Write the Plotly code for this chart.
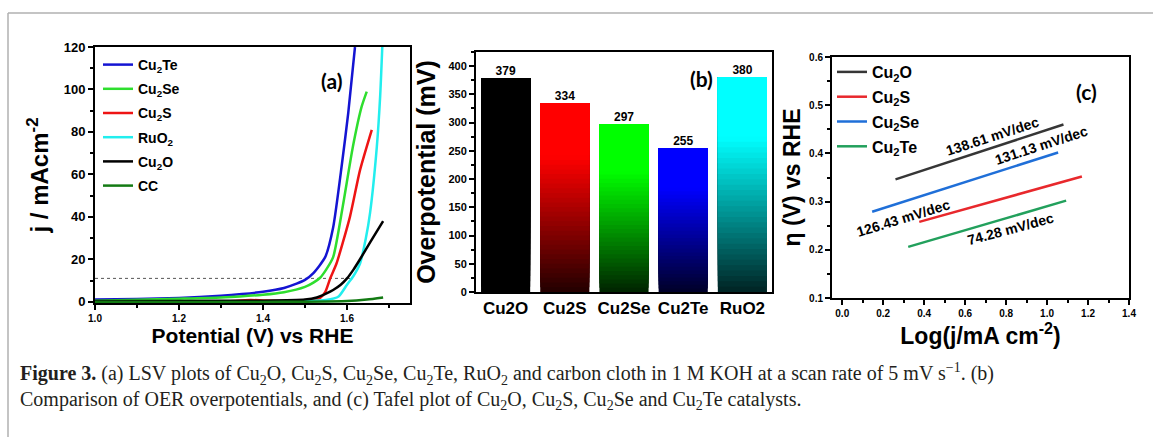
import plotly.graph_objects as go

W, H = 1153, 437

# ---------------- Panel (a) LSV data ----------------
lsv_cu2te_x = [1.0, 1.1, 1.2, 1.3, 1.35, 1.4, 1.45, 1.48, 1.5, 1.52, 1.548, 1.567, 1.588, 1.603, 1.619]
lsv_cu2te_j = [1.0, 1.3, 1.8, 2.8, 3.6, 4.7, 6.5, 8.5, 10.3, 13.5, 21, 35, 65, 89, 120]
lsv_cu2se_x = [1.0, 1.1, 1.2, 1.3, 1.4, 1.45, 1.5, 1.52, 1.536, 1.55, 1.567, 1.59, 1.614, 1.635, 1.647]
lsv_cu2se_j = [0.5, 0.9, 1.4, 2.0, 3.3, 4.5, 7.0, 9.0, 11.3, 15, 21, 45, 73, 92, 99]
lsv_cu2s_x = [1.0, 1.1, 1.2, 1.3, 1.37, 1.4, 1.45, 1.5, 1.52, 1.536, 1.548, 1.56, 1.575, 1.607, 1.631, 1.659]
lsv_cu2s_j = [-0.5, -0.5, -0.3, 0.0, 0.8, 0.6, 0.3, 0.3, 0.8, 1.8, 4.5, 11, 18, 40, 62, 81]
lsv_ruo2_x = [1.0, 1.2, 1.4, 1.5, 1.55, 1.58, 1.6, 1.615, 1.631, 1.645, 1.655, 1.671, 1.679, 1.684]
lsv_ruo2_j = [0.0, 0.0, 0.1, 0.3, 0.8, 2.5, 8, 12, 18, 30, 42, 73, 97, 120]
lsv_cu2o_x = [1.0, 1.2, 1.4, 1.5, 1.528, 1.55, 1.567, 1.585, 1.6, 1.615, 1.631, 1.655, 1.686]
lsv_cu2o_j = [0.3, 0.4, 0.5, 1.0, 2.0, 3.8, 5.5, 8, 11, 15, 20, 28, 38]
lsv_cc_x = [1.0, 1.2, 1.4, 1.5, 1.6, 1.647, 1.686]
lsv_cc_j = [0.0, -0.1, -0.1, 0.0, 0.3, 1.0, 2.0]
ref_line_x = [1.0, 1.61]
ref_line_j = [11, 11]

# ---------------- Panel (b) overpotential data ----------------
bar_categories = ["Cu2O", "Cu2S", "Cu2Se", "Cu2Te", "RuO2"]
bar_values = [379, 334, 297, 255, 380]
bar_top_colors = [(0, 0, 0), (255, 0, 0), (0, 255, 0), (0, 0, 255), (0, 255, 255)]
bar_bottom_colors = [(0, 0, 0), (35, 0, 0), (0, 35, 0), (0, 0, 40), (0, 35, 35)]

# ---------------- Panel (c) Tafel data ----------------
tafel_cu2o_x = [0.26, 1.08]
tafel_cu2o_y = [0.346, 0.460]
tafel_cu2s_x = [0.376, 1.17]
tafel_cu2s_y = [0.258, 0.352]
tafel_cu2se_x = [0.146, 1.054]
tafel_cu2se_y = [0.279, 0.402]
tafel_cu2te_x = [0.322, 1.093]
tafel_cu2te_y = [0.206, 0.302]
tafel_slopes = ["138.61 mV/dec", "131.13 mV/dec", "126.43 mV/dec", "74.28 mV/dec"]


def px(x):
    return x / W


def py(y):
    return 1 - y / H


fig = go.Figure()

# ---- panel (a) traces ----
lsv_series = [
    ("Cu<sub>2</sub>Te", lsv_cu2te_x, lsv_cu2te_j, "#1414d2"),
    ("Cu<sub>2</sub>Se", lsv_cu2se_x, lsv_cu2se_j, "#2ede2e"),
    ("Cu<sub>2</sub>S", lsv_cu2s_x, lsv_cu2s_j, "#ee1414"),
    ("RuO<sub>2</sub>", lsv_ruo2_x, lsv_ruo2_j, "#22eeee"),
    ("Cu<sub>2</sub>O", lsv_cu2o_x, lsv_cu2o_j, "#000000"),
    ("CC", lsv_cc_x, lsv_cc_j, "#137a13"),
]
fig.add_trace(go.Scatter(x=ref_line_x, y=ref_line_j, mode="lines",
                         line=dict(color="#555", width=1, dash="dot"),
                         showlegend=False, xaxis="x", yaxis="y"))
for i, (name, xs, ys, col) in enumerate(lsv_series):
    fig.add_trace(go.Scatter(x=xs, y=ys, mode="lines", name=name,
                             line=dict(color=col, width=2.5, shape="spline", smoothing=0.6),
                             legend="legend", legendgroup="a%d" % i,
                             xaxis="x", yaxis="y"))

# ---- panel (b) gradient bars: nested layers, each reaching the bar top ----
N = 40


def lerp(c0, c1, t):
    return "rgb(%d,%d,%d)" % tuple(round(c0[k] + (c1[k] - c0[k]) * t) for k in range(3))


for k in range(N):
    t = min(1.0, ((k + 0.5) / N) / 0.72)
    cols = [lerp(bar_bottom_colors[i], bar_top_colors[i], t) for i in range(len(bar_values))]
    fig.add_trace(go.Bar(x=bar_categories,
                         y=[v * (N - k) / N for v in bar_values],
                         base=[v * k / N for v in bar_values],
                         marker=dict(color=cols, line=dict(width=0)),
                         width=0.83, showlegend=False, hoverinfo="skip",
                         xaxis="x2", yaxis="y2"))
fig.add_trace(go.Scatter(x=bar_categories, y=bar_values, mode="text",
                         text=[str(v) for v in bar_values], textposition="top center",
                         textfont=dict(size=12, color="black", family="Arial", weight="bold"),
                         showlegend=False, xaxis="x2", yaxis="y2"))

# ---- panel (c) Tafel lines ----
tafel_series = [
    ("Cu<sub>2</sub>O", tafel_cu2o_x, tafel_cu2o_y, "#363636"),
    ("Cu<sub>2</sub>S", tafel_cu2s_x, tafel_cu2s_y, "#e8282c"),
    ("Cu<sub>2</sub>Se", tafel_cu2se_x, tafel_cu2se_y, "#1f6fd8"),
    ("Cu<sub>2</sub>Te", tafel_cu2te_x, tafel_cu2te_y, "#22a05c"),
]
for i, (name, xs, ys, col) in enumerate(tafel_series):
    fig.add_trace(go.Scatter(x=xs, y=ys, mode="lines", name=name,
                             line=dict(color=col, width=2.5),
                             legend="legend2", legendgroup="c%d" % i,
                             xaxis="x3", yaxis="y3"))

bold = dict(family="Arial", color="black", weight="bold")
axis_common = dict(showline=True, linewidth=2, linecolor="black", mirror=True,
                   ticks="outside", tickwidth=2, ticklen=5, tickcolor="black",
                   showgrid=False, zeroline=False, automargin=False)
minor_common = dict(ticks="outside", ticklen=3, tickwidth=1.5, tickcolor="black")

fig.update_layout(
    width=W, height=H, margin=dict(l=0, r=0, t=0, b=0),
    paper_bgcolor="white", plot_bgcolor="white",
    barmode="overlay", bargap=0.17,
    xaxis=dict(domain=[px(95), px(410)], range=[1.0, 1.75], dtick=0.2, tick0=1.0,
               tickformat=".1f", tickfont=dict(size=10, **bold),
               minor=dict(dtick=0.1, **minor_common),
               title=dict(text="Potential (V) vs RHE", font=dict(size=21, **bold), standoff=4),
               anchor="y", **axis_common),
    yaxis=dict(domain=[py(303), py(47)], range=[-0.6, 120], dtick=20,
               tickfont=dict(size=13, **bold),
               minor=dict(dtick=10, **minor_common),
               title=dict(text="j / mAcm<sup>-2</sup>", font=dict(size=24, **bold), standoff=8),
               anchor="x", **axis_common),
    xaxis2=dict(domain=[px(476), px(772)], range=[-0.5, 4.5], type="category",
                tickfont=dict(size=17, **bold), anchor="y2",
                showline=True, linewidth=2, linecolor="black", mirror=True,
                ticks="", showgrid=False, zeroline=False, automargin=False),
    yaxis2=dict(domain=[py(292), py(52)], range=[0, 425], dtick=50,
                tickfont=dict(size=11, **bold),
                minor=dict(dtick=25, **minor_common),
                title=dict(text="Overpotential (mV)", font=dict(size=25, **bold), standoff=6),
                anchor="x2", **axis_common),
    xaxis3=dict(domain=[px(832), px(1129)], range=[-0.05, 1.4], dtick=0.2, tick0=0,
                tickformat=".1f", tickfont=dict(size=10, **bold),
                minor=dict(dtick=0.1, **minor_common),
                title=dict(text="Log(j/mA cm<sup>-2</sup>)", font=dict(size=23, **bold), standoff=0),
                anchor="y3", **axis_common),
    yaxis3=dict(domain=[py(298), py(57)], range=[0.1, 0.6], dtick=0.1,
                tickformat=".1f", tickfont=dict(size=10, **bold),
                minor=dict(dtick=0.05, **minor_common),
                title=dict(text="η (V) vs RHE", font=dict(size=23, **bold), standoff=2),
                anchor="x3", **axis_common),
    legend=dict(x=px(98), y=py(49), xanchor="left", yanchor="top",
                font=dict(size=14, **bold), bgcolor="rgba(0,0,0,0)",
                tracegroupgap=3, itemwidth=30),
    legend2=dict(x=px(832), y=py(55), xanchor="left", yanchor="top",
                 font=dict(size=16, **bold), bgcolor="rgba(0,0,0,0)",
                 tracegroupgap=1, itemwidth=30),
    showlegend=True,
)

caption_font = dict(size=20, family="Liberation Serif", color="#231f20")
annotations = [
    dict(text="<b>(a)</b>", x=px(319), y=py(66), xref="paper", yref="paper",
         showarrow=False, font=dict(size=21, family="Lato", color="black")),
    dict(text="<b>(b)</b>", x=px(701), y=py(64), xref="paper", yref="paper",
         showarrow=False, font=dict(size=21, family="Lato", color="black")),
    dict(text="<b>(c)</b>", x=px(1099), y=py(77), xref="paper", yref="paper",
         showarrow=False, font=dict(size=21, family="Lato", color="black")),
    dict(text=tafel_slopes[0], x=0.735, y=0.437, xref="x3", yref="y3", textangle=-18,
         showarrow=False, font=dict(size=14, **bold)),
    dict(text=tafel_slopes[1], x=0.975, y=0.417, xref="x3", yref="y3", textangle=-18,
         showarrow=False, font=dict(size=14, **bold)),
    dict(text=tafel_slopes[2], x=0.30, y=0.266, xref="x3", yref="y3", textangle=-17,
         showarrow=False, font=dict(size=14, **bold)),
    dict(text=tafel_slopes[3], x=0.82, y=0.244, xref="x3", yref="y3", textangle=-15,
         showarrow=False, font=dict(size=14, **bold)),
    dict(text="<b>Figure 3.</b> (a) LSV plots of Cu<sub>2</sub>O, Cu<sub>2</sub>S, Cu<sub>2</sub>Se, "
              "Cu<sub>2</sub>Te, RuO<sub>2</sub> and carbon cloth in 1 M KOH at a scan rate of 5 mV s<sup>−1</sup>. (b)",
         x=px(18), y=py(374), xref="paper", yref="paper", xanchor="left", yanchor="middle",
         showarrow=False, font=caption_font),
    dict(text="Comparison of OER overpotentials, and (c) Tafel plot of Cu<sub>2</sub>O, Cu<sub>2</sub>S, "
              "Cu<sub>2</sub>Se and Cu<sub>2</sub>Te catalysts.",
         x=px(18), y=py(400), xref="paper", yref="paper", xanchor="left", yanchor="middle",
         showarrow=False, font=caption_font),
]
fig.update_layout(annotations=annotations)

fig.update_layout(shapes=[
    dict(type="line", xref="paper", yref="paper", x0=px(8), x1=px(8), y0=0, y1=py(13),
         line=dict(color="#b0b0b0", width=1.5)),
    dict(type="line", xref="paper", yref="paper", x0=px(8), x1=1, y0=py(13), y1=py(13),
         line=dict(color="#b0b0b0", width=1.5)),
])

fig.write_html("out.html")
